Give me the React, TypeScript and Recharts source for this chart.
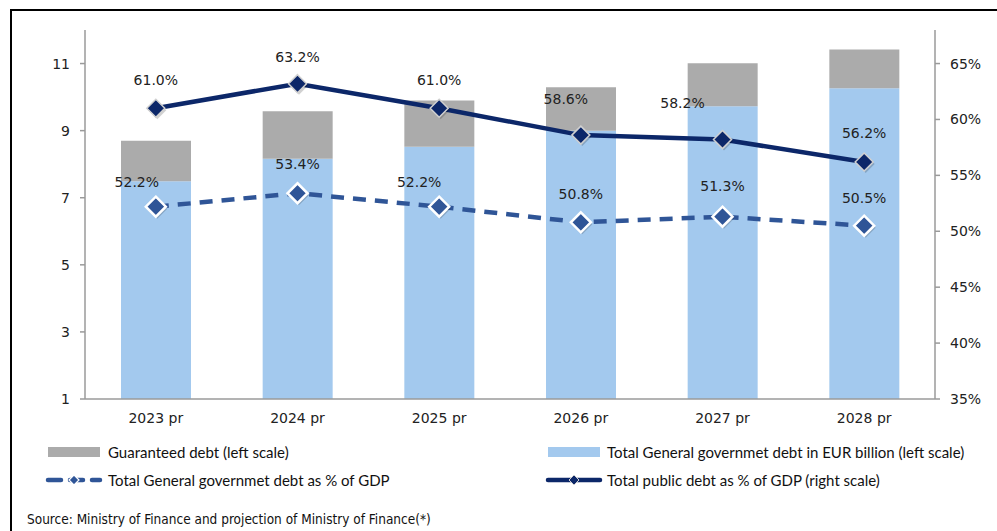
import React from 'react';
import { ComposedChart, Bar, Line, XAxis, YAxis, LabelList } from 'recharts';

const years = ['2023 pr', '2024 pr', '2025 pr', '2026 pr', '2027 pr', '2028 pr'];
const govDebtBn = [7.49, 8.16, 8.52, 9.0, 9.73, 10.26];
const guaranteedBn = [1.21, 1.42, 1.38, 1.29, 1.28, 1.16];
const govDebtPct = [52.2, 53.4, 52.2, 50.8, 51.3, 50.5];
const publicDebtPct = [61.0, 63.2, 61.0, 58.6, 58.2, 56.2];
const leftTicks = [1, 3, 5, 7, 9, 11];
const rightTicks = [35, 40, 45, 50, 55, 60, 65];

// label nudges, so the text sits where the original puts it
const solidLabelDx = [0, 0, 0, -15, -40, 0];
const solidLabelDy = [-28, -27, -28, -36, -37, -29];
const dashLabelDx = [-19, 0, -20, 0, 0, 0];
const dashLabelDy = [-25, -29, -25, -28, -31, -28];

const data = years.map((y, i) => ({
  year: y,
  gov: govDebtBn[i],
  guar: guaranteedBn[i],
  govPct: govDebtPct[i],
  pubPct: publicDebtPct[i],
}));

const NAVY = '#0c2769';
const MID_BLUE = '#2f5597';
const LIGHT_BLUE = '#a3c9ee';
const GREY = '#ababab';
const AXIS = '#9a9a9a';
const FONT = "'DejaVu Sans', sans-serif";

const diamond = (fill: string, stroke: string, r: number, sw: number) => (props: any) => {
  const { cx, cy, index } = props;
  if (cx == null || cy == null) return null;
  const d = (x: number, y: number) => `M${x},${y - r}L${x + r},${y}L${x},${y + r}L${x - r},${y}Z`;
  return (
    <g key={`d-${index}`}>
      <path d={d(cx + 1.5, cy + 2)} fill="#000" opacity={0.18} />
      <path d={d(cx, cy)} fill={fill} stroke={stroke} strokeWidth={sw} />
    </g>
  );
};

const makeLabel = (dxs: number[], dys: number[]) => (props: any) => {
  const { x, y, value, index } = props;
  return (
    <text
      x={x + dxs[index]}
      y={y + dys[index] + 5}
      textAnchor="middle"
      fontSize={14}
      fontFamily={FONT}
      fill="#222"
    >
      {Number(value).toFixed(1)}%
    </text>
  );
};

const legendText: React.CSSProperties = {
  position: 'absolute',
  fontFamily: "Lato, sans-serif",
  fontSize: 15,
  color: '#111',
  whiteSpace: 'nowrap',
  lineHeight: '16px',
};

const tickStyle = { fill: '#222', fontSize: 14, fontFamily: FONT };

export default function App() {
  return (
    <div style={{ position: 'absolute', left: 0, top: 0, width: 997, height: 531, overflow: 'hidden', background: '#fff' }}>
      <div style={{ position: 'absolute', left: 10, top: 9, width: 1000, height: 540, border: '2px solid #000', boxSizing: 'border-box' }} />
      <div style={{ position: 'absolute', left: 0, top: 0 }}>
        <ComposedChart width={997} height={440} data={data} margin={{ top: 30, right: 12, left: 35, bottom: 11 }}>
          <XAxis
            dataKey="year"
            height={30}
            stroke={AXIS}
            strokeWidth={1.5}
            tickLine={false}
            tickMargin={8}
            tick={tickStyle}
          />
          <YAxis
            yAxisId="left"
            orientation="left"
            width={50}
            domain={[1, 12]}
            allowDataOverflow
            ticks={leftTicks}
            stroke={AXIS}
            strokeWidth={1.5}
            tickSize={5}
            tickMargin={10}
            tick={tickStyle}
          />
          <YAxis
            yAxisId="right"
            orientation="right"
            width={50}
            domain={[35, 68]}
            allowDataOverflow
            ticks={rightTicks}
            tickFormatter={(v: number) => `${v}%`}
            stroke={AXIS}
            strokeWidth={1.5}
            tickSize={5}
            tickMargin={10}
            tick={tickStyle}
          />
          <Bar yAxisId="left" dataKey="gov" stackId="a" fill={LIGHT_BLUE} barSize={70} isAnimationActive={false} />
          <Bar yAxisId="left" dataKey="guar" stackId="a" fill={GREY} barSize={70} isAnimationActive={false} />
          <Line
            yAxisId="right"
            dataKey="govPct"
            type="linear"
            stroke={MID_BLUE}
            strokeWidth={4.5}
            strokeDasharray="13 9"
            dot={diamond(MID_BLUE, '#ffffff', 10, 2.5)}
            activeDot={false}
            isAnimationActive={false}
          >
            <LabelList dataKey="govPct" content={makeLabel(dashLabelDx, dashLabelDy)} />
          </Line>
          <Line
            yAxisId="right"
            dataKey="pubPct"
            type="linear"
            stroke={NAVY}
            strokeWidth={4.5}
            dot={diamond(NAVY, '#d0d0d0', 9, 1.5)}
            activeDot={false}
            isAnimationActive={false}
          >
            <LabelList dataKey="pubPct" content={makeLabel(solidLabelDx, solidLabelDy)} />
          </Line>
        </ComposedChart>
      </div>

      {/* legend */}
      <svg style={{ position: 'absolute', left: 0, top: 440 }} width={997} height={50}>
        <rect x={48} y={7} width={52} height={10} fill={GREY} />
        <rect x={548} y={7} width={52} height={10} fill={LIGHT_BLUE} />
        <line x1={48} y1={40} x2={100} y2={40} stroke={MID_BLUE} strokeWidth={4.5} strokeDasharray="13 9" strokeLinecap="round" />
        <path d="M74,35L79,40L74,45L69,40Z" fill={MID_BLUE} stroke="#fff" strokeWidth={1.2} />
        <line x1={548} y1={40} x2={600} y2={40} stroke={NAVY} strokeWidth={4.5} strokeLinecap="round" />
        <path d="M574,35L579,40L574,45L569,40Z" fill={NAVY} stroke="#d0d0d0" strokeWidth={1} />
      </svg>
      <div style={{ ...legendText, left: 108, top: 444 }}>Guaranteed debt (left scale)</div>
      <div style={{ ...legendText, left: 607, top: 444 }}>Total General governmet debt in EUR billion (left scale)</div>
      <div style={{ ...legendText, left: 108, top: 472 }}>Total General governmet debt as % of GDP</div>
      <div style={{ ...legendText, left: 607, top: 472 }}>Total public debt as % of GDP (right scale)</div>

      <div
        style={{
          position: 'absolute',
          left: 27,
          top: 511,
          fontFamily: "'Liberation Sans Narrow', 'DejaVu Sans Condensed', sans-serif",
          fontSize: 13.5,
          color: '#111',
          whiteSpace: 'nowrap',
        }}
      >
        Source: Ministry of Finance and projection of Ministry of Finance(*)
      </div>
    </div>
  );
}
